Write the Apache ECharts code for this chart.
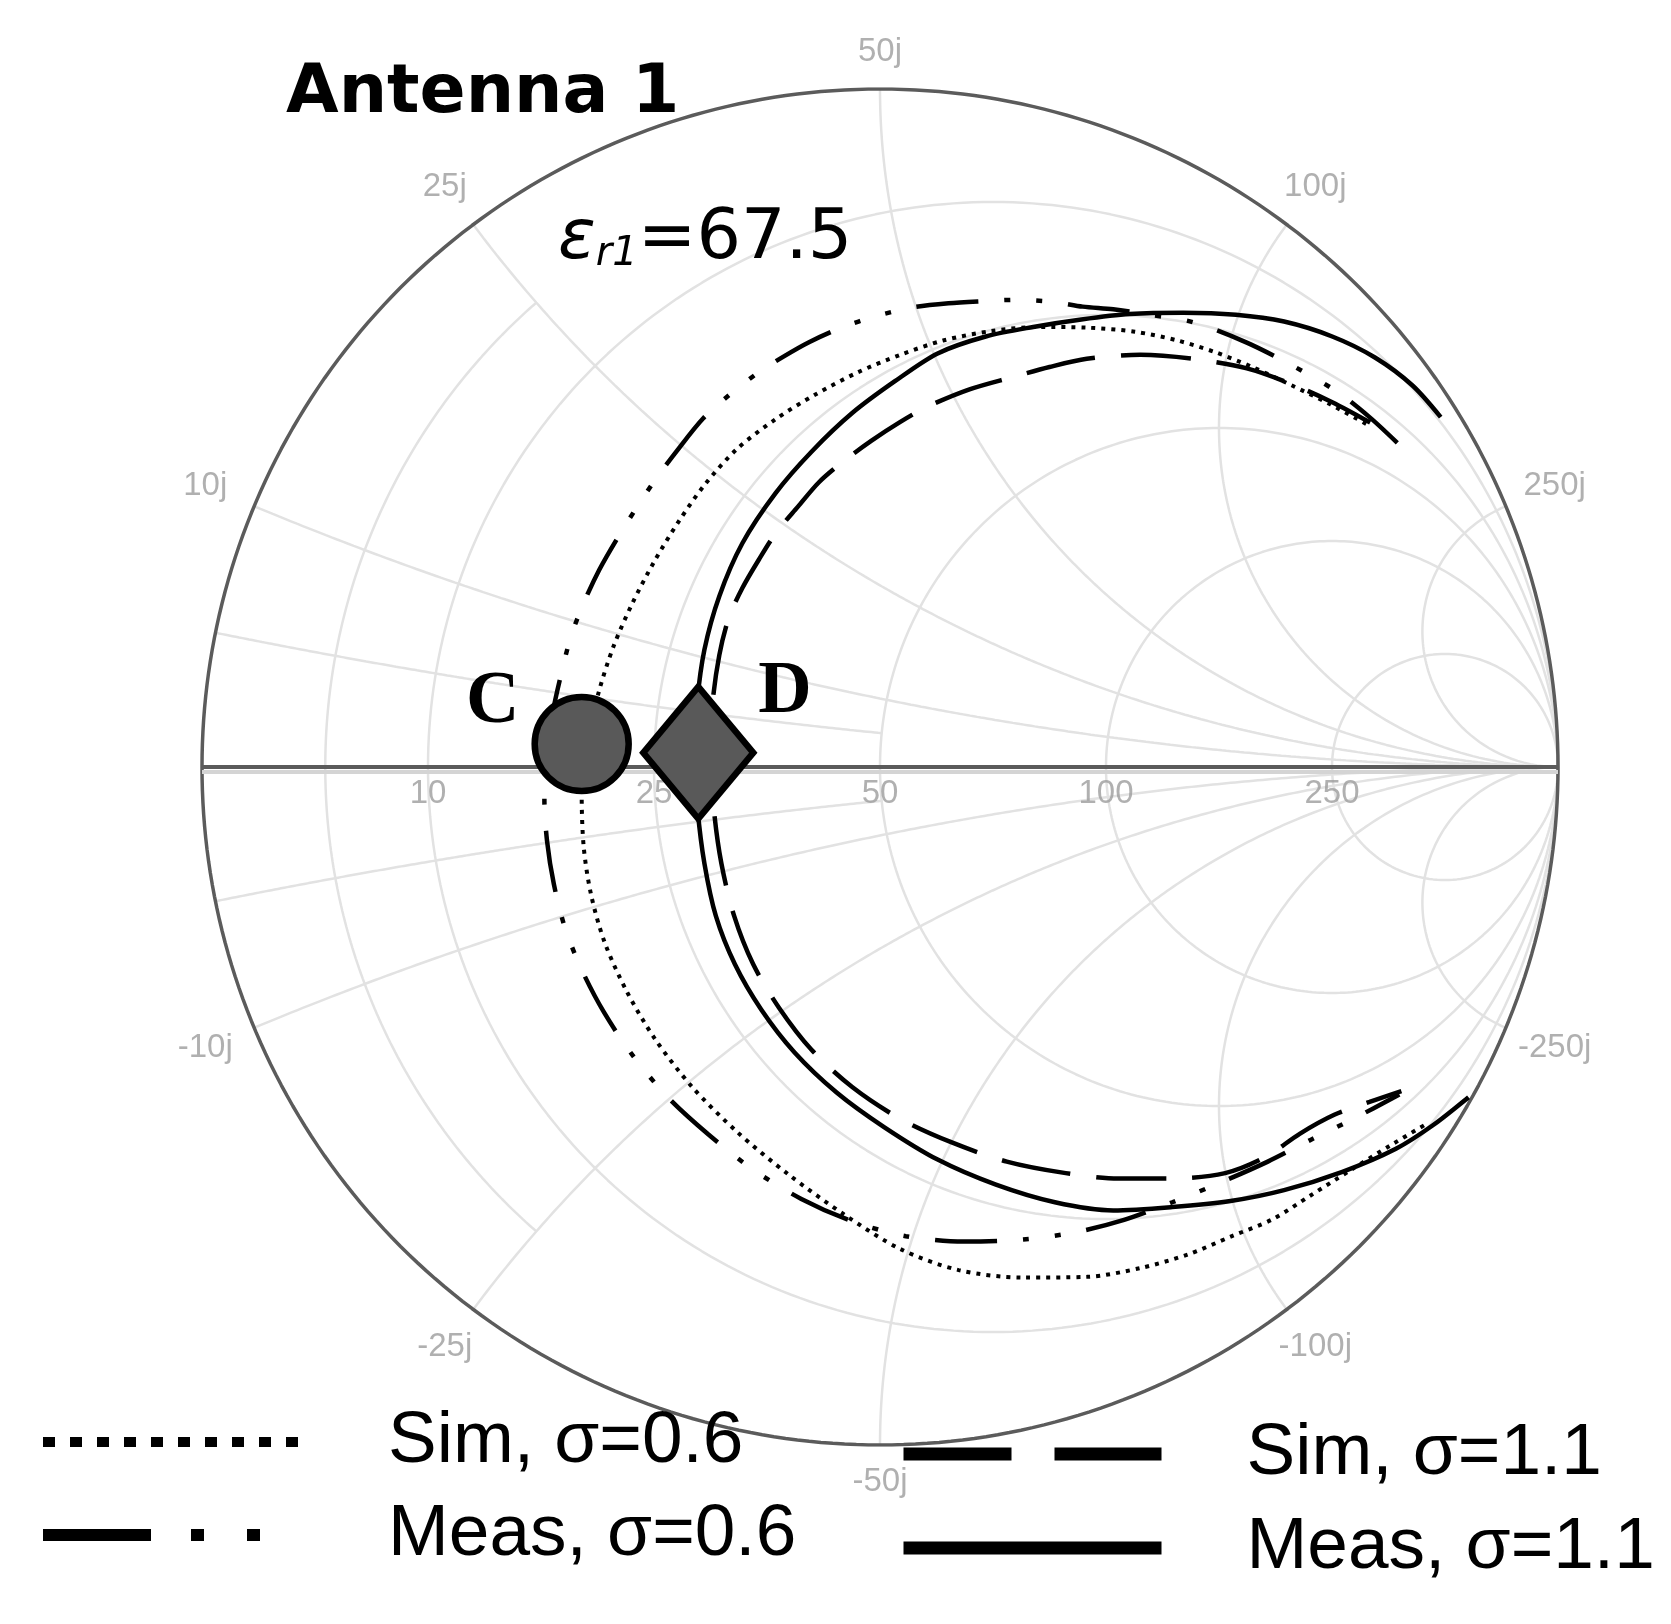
<!DOCTYPE html>
<html>
<head>
<meta charset="utf-8">
<script src="https://cdn.jsdelivr.net/npm/echarts/dist/echarts.min.js"></script>
<style>
html, body { margin: 0; background: #fff; }
#chart { width: 1671px; height: 1624px; }
</style>
</head>
<body>
<div id="chart"></div>
<script>
// reference impedance and Smith grid values (ohm)
const z0 = 50;
const resTicks = [10, 25, 50, 100, 250];
const reactTicks = [10, 25, 50, 100, 250];
// light extra lines near the short-circuit side
const minorRes = [5];
const minorReact = [5];

const names = ['Sim, σ=0.6', 'Meas, σ=0.6', 'Sim, σ=1.1', 'Meas, σ=1.1'];

// reflection coefficient [Re, Im]
const simLow = [
    [0.717, 0.506], [0.664, 0.535], [0.607, 0.563], [0.549, 0.590], [0.494, 0.612],
    [0.439, 0.629], [0.376, 0.642], [0.305, 0.648], [0.234, 0.649], [0.164, 0.643],
    [0.093, 0.629], [0.030, 0.608], [-0.033, 0.582], [-0.096, 0.549], [-0.154, 0.513],
    [-0.211, 0.469], [-0.258, 0.417], [-0.297, 0.362], [-0.333, 0.303], [-0.365, 0.242],
    [-0.393, 0.178], [-0.415, 0.110], [-0.432, 0.036], [-0.440, -0.039], [-0.437, -0.118],
    [-0.426, -0.189], [-0.406, -0.259], [-0.374, -0.330], [-0.332, -0.401], [-0.277, -0.472],
    [-0.211, -0.538], [-0.135, -0.601], [-0.053, -0.660], [0.030, -0.711], [0.116, -0.742],
    [0.211, -0.753], [0.305, -0.752], [0.384, -0.739], [0.454, -0.719], [0.519, -0.692],
    [0.579, -0.667], [0.635, -0.632], [0.695, -0.594], [0.753, -0.558], [0.805, -0.527]
];
const measLow = [
    [0.763, 0.478], [0.722, 0.516], [0.675, 0.553], [0.612, 0.590], [0.541, 0.626],
    [0.462, 0.656], [0.398, 0.667], [0.344, 0.675], [0.299, 0.679], [0.255, 0.686],
    [0.198, 0.689], [0.151, 0.687], [0.101, 0.684], [0.049, 0.678], [-0.006, 0.665],
    [-0.057, 0.648], [-0.104, 0.627], [-0.143, 0.605], [-0.182, 0.580], [-0.222, 0.549],
    [-0.261, 0.514], [-0.299, 0.467], [-0.332, 0.423], [-0.360, 0.381], [-0.387, 0.338],
    [-0.414, 0.291], [-0.437, 0.242], [-0.456, 0.192], [-0.470, 0.138], [-0.483, 0.079],
    [-0.492, 0.016], [-0.495, -0.047], [-0.491, -0.110], [-0.481, -0.173], [-0.465, -0.236],
    [-0.440, -0.299], [-0.407, -0.362], [-0.365, -0.425], [-0.313, -0.487], [-0.253, -0.542],
    [-0.187, -0.594], [-0.116, -0.637], [-0.041, -0.670], [0.038, -0.692], [0.124, -0.700],
    [0.211, -0.697], [0.289, -0.686], [0.360, -0.668], [0.431, -0.642], [0.502, -0.613],
    [0.572, -0.582], [0.635, -0.550], [0.698, -0.519], [0.766, -0.483]
];
const simHigh = [
    [0.723, 0.508], [0.667, 0.538], [0.604, 0.566], [0.541, 0.588], [0.462, 0.602],
    [0.384, 0.608], [0.305, 0.602], [0.250, 0.590], [0.195, 0.575], [0.132, 0.557],
    [0.069, 0.531], [0.030, 0.509], [-0.013, 0.481], [-0.055, 0.450], [-0.090, 0.420],
    [-0.121, 0.384], [-0.153, 0.346], [-0.178, 0.307], [-0.203, 0.264], [-0.223, 0.220],
    [-0.237, 0.165], [-0.247, 0.094], [-0.250, 0.020], [-0.245, -0.063], [-0.234, -0.142],
    [-0.215, -0.220], [-0.187, -0.291], [-0.149, -0.355], [-0.101, -0.417], [-0.041, -0.472],
    [0.030, -0.519], [0.104, -0.553], [0.187, -0.582], [0.274, -0.599], [0.352, -0.607],
    [0.431, -0.607], [0.509, -0.599], [0.569, -0.575], [0.619, -0.541], [0.670, -0.513],
    [0.722, -0.494], [0.769, -0.478]
];
const measHigh = [
    [0.827, 0.516], [0.785, 0.563], [0.730, 0.604], [0.667, 0.635], [0.596, 0.657],
    [0.525, 0.667], [0.447, 0.670], [0.368, 0.668], [0.297, 0.660], [0.226, 0.649],
    [0.156, 0.635], [0.085, 0.610], [0.022, 0.569], [-0.041, 0.522], [-0.101, 0.465],
    [-0.154, 0.404], [-0.203, 0.330], [-0.237, 0.252], [-0.259, 0.173], [-0.270, 0.094],
    [-0.274, 0.020], [-0.269, -0.063], [-0.259, -0.142], [-0.242, -0.220], [-0.214, -0.291],
    [-0.175, -0.358], [-0.126, -0.421], [-0.064, -0.480], [0.006, -0.531], [0.085, -0.579],
    [0.171, -0.616], [0.258, -0.642], [0.344, -0.654], [0.431, -0.649], [0.517, -0.640],
    [0.596, -0.624], [0.682, -0.597], [0.761, -0.563], [0.816, -0.528], [0.868, -0.487]
];
const markerC = [-0.440, 0.034];
const markerD = [-0.268, 0.021];

// normalized impedance -> reflection coefficient
function toGamma(r, x) {
    const den = (r + 1) * (r + 1) + x * x;
    return [(r * r + x * x - 1) / den, 2 * x / den];
}

function resCircle(rOhm, xLimOhm) {
    const r = rOhm / z0;
    const pts = [];
    if (xLimOhm == null) {
        const c = r / (1 + r), rad = 1 / (1 + r);
        for (let i = 0; i <= 360; i++) {
            const a = i * Math.PI / 180;
            pts.push([c + rad * Math.cos(a), rad * Math.sin(a)]);
        }
    } else {
        const lim = xLimOhm / z0;
        for (let i = 0; i <= 200; i++) pts.push(toGamma(r, -lim + 2 * lim * i / 200));
    }
    return pts;
}

function reactArc(xOhm, rLimOhm) {
    const x = xOhm / z0;
    const end = rLimOhm == null ? Math.PI / 2 : Math.atan(rLimOhm / z0);
    const pts = [];
    for (let i = 0; i <= 300; i++) {
        const t = end * i / 300;
        pts.push(i === 300 && rLimOhm == null ? [1, 0] : toGamma(Math.tan(t), x));
    }
    return pts;
}

const gridColor = '#e2e2e2';
const series = [];
const gridLine = (data) => ({
    type: 'line', data: data, symbol: 'none', silent: true, z: 1,
    lineStyle: { color: gridColor, width: 2.5 }
});

resTicks.forEach(v => series.push(gridLine(resCircle(v))));
reactTicks.forEach(v => {
    series.push(gridLine(reactArc(v)));
    series.push(gridLine(reactArc(-v)));
});
minorRes.forEach(v => series.push(gridLine(resCircle(v, 25))));
minorReact.forEach(v => {
    series.push(gridLine(reactArc(v, 50)));
    series.push(gridLine(reactArc(-v, 50)));
});

// outer rim and real axis
series.push({
    type: 'line', data: resCircle(0), symbol: 'none', silent: true, z: 2,
    lineStyle: { color: '#5b5b5b', width: 3.5 }
});
series.push({
    type: 'line', data: [toGamma(0, 0), [1, 0]], symbol: 'none', silent: true, z: 2,
    lineStyle: { color: '#5b5b5b', width: 4, shadowColor: '#d4d4d4', shadowOffsetY: 5 }
});

// data curves
const curve = (name, data, width, dash) => ({
    name: name, type: 'line', data: data, symbol: 'none', smooth: 0.3, z: 4,
    lineStyle: { color: '#000', width: width, type: dash }
});
series.push(curve(names[0], simLow, 4, [4, 6]));
series.push(curve(names[1], measLow, 4.5, [62, 26, 6, 26, 6, 26]));
series.push(curve(names[2], simHigh, 4.5, [70, 26]));
series.push(curve(names[3], measHigh, 4.5, 'solid'));

// markers C and D
const markerLabel = {
    show: true, color: '#000', fontFamily: 'Liberation Serif', fontWeight: 'bold', fontSize: 74
};
series.push({
    type: 'scatter', data: [markerC], symbol: 'circle', symbolSize: 94, z: 6, silent: true,
    itemStyle: { color: '#595959', borderColor: '#000', borderWidth: 6.5, opacity: 1 },
    label: Object.assign({ formatter: 'C', position: 'left', distance: 12, offset: [0, -41] }, markerLabel)
});
series.push({
    type: 'scatter', data: [markerD], symbol: 'diamond', symbolSize: [110, 132], z: 6, silent: true,
    itemStyle: { color: '#595959', borderColor: '#000', borderWidth: 6.5, opacity: 1 },
    label: Object.assign({ formatter: 'D', position: 'right', distance: 2, offset: [0, -60] }, markerLabel)
});

// grid labels
const tickFont = { color: '#9c9c9c', fontFamily: 'Liberation Sans', fontSize: 33 };
series.push({
    type: 'scatter', silent: true, clip: false, symbolSize: 1, z: 3,
    itemStyle: { color: 'rgba(0,0,0,0)' },
    data: resTicks.map(v => [toGamma(v / z0, 0)[0], 0, String(v)]),
    label: Object.assign({ show: true, position: 'bottom', distance: 10, formatter: p => p.value[2] }, tickFont)
});
const reactLabels = [];
reactTicks.forEach(v => {
    [v, -v].forEach(s => {
        const g = toGamma(0, s / z0);
        const k = 1.055 + 0.025 * Math.abs(g[0]);
        reactLabels.push([g[0] * k, g[1] * k, s + 'j']);
    });
});
series.push({
    type: 'scatter', silent: true, clip: false, symbolSize: 1, z: 3,
    itemStyle: { color: 'rgba(0,0,0,0)' },
    data: reactLabels,
    label: Object.assign({ show: true, position: 'inside', formatter: p => p.value[2] }, tickFont)
});

const legendText = (pad) => ({
    color: '#000', fontFamily: 'Liberation Sans', fontSize: 73,
    lineHeight: 80, padding: [0, 0, 0, pad]
});

const chart = echarts.init(document.getElementById('chart'));
chart.setOption({
    animation: false,
    backgroundColor: '#fff',
    title: [
        {
            text: 'Antenna 1', left: 286, top: 60, padding: 0,
            textStyle: { fontFamily: 'DejaVu Sans', fontWeight: 'bold', fontSize: 68, color: '#000' }
        },
        {
            text: '{e|ε}{s|r1}{n|=67.5}', left: 558, top: 205, padding: 0,
            textStyle: {
                fontWeight: 'normal',
                rich: {
                    e: { fontFamily: 'DejaVu Sans', fontStyle: 'italic', fontWeight: 'normal', fontSize: 70, color: '#000', verticalAlign: 'bottom' },
                    s: { fontFamily: 'DejaVu Sans', fontStyle: 'italic', fontWeight: 'normal', fontSize: 40, lineHeight: 16, color: '#000', verticalAlign: 'bottom' },
                    n: { fontFamily: 'DejaVu Sans', fontWeight: 'normal', fontSize: 70, color: '#000', verticalAlign: 'bottom' }
                }
            }
        }
    ],
    grid: { left: 202, top: 89, width: 1356, height: 1356 },
    xAxis: { type: 'value', min: -1, max: 1, show: false },
    yAxis: { type: 'value', min: -1, max: 1, show: false },
    legend: [
        {
            orient: 'vertical', left: 37, top: 1402, padding: 0, itemGap: 13,
            itemWidth: 256, itemHeight: 4, itemStyle: { opacity: 0 },
            textStyle: legendText(84),
            data: [
                { name: names[0], lineStyle: { width: 10, type: [12, 15] } },
                { name: names[1], lineStyle: { width: 12, type: [108, 40, 13, 43, 13, 300] } }
            ]
        },
        {
            orient: 'vertical', left: 897, top: 1414, padding: 0, itemGap: 14,
            itemWidth: 258, itemHeight: 4, itemStyle: { opacity: 0 },
            textStyle: legendText(80),
            data: [
                { name: names[2], lineStyle: { width: 13, type: [108, 43] } },
                { name: names[3], lineStyle: { width: 13, type: 'solid' } }
            ]
        }
    ],
    series: series
});
</script>
</body>
</html>
